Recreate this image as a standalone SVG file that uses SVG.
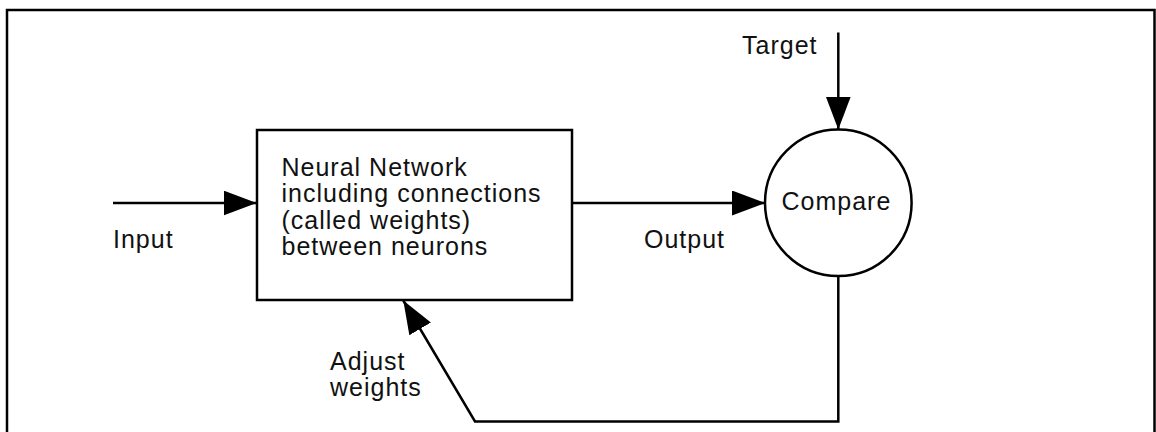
<svg xmlns="http://www.w3.org/2000/svg" width="1156" height="432" viewBox="0 0 1156 432">
  <style>
    .frame { fill: none; stroke: #000; stroke-width: 2.5; }
    .shape { fill: #fff; stroke: #000; stroke-width: 2.5; }
    .wire { fill: none; stroke: #000; stroke-width: 2.5; stroke-linejoin: miter; }
    .label { font-family: "Liberation Sans", Arial, Helvetica, sans-serif; font-size: 25px; letter-spacing: 1px; fill: #111; }
  </style>
  <defs>
    <marker id="arrow" viewBox="0 0 33 25" refX="33" refY="12.5" markerWidth="33" markerHeight="25" markerUnits="userSpaceOnUse" orient="auto">
      <path d="M0,0 L33,12.5 L0,25 Z" fill="#000"/>
    </marker>
  </defs>

  <rect width="1156" height="432" fill="#fff"/>
  <rect class="frame" x="7" y="10" width="1147.5" height="440"/>

  <!-- connectors -->
  <g id="connectors">
    <path id="input-edge" class="wire" d="M113,203 L256.5,203" marker-end="url(#arrow)"/>
    <path id="output-edge" class="wire" d="M572,203 L765,203" marker-end="url(#arrow)"/>
    <path id="target-edge" class="wire" d="M838.3,32.5 L838.3,129.5" marker-end="url(#arrow)"/>
    <path id="feedback-edge" class="wire" d="M838.3,276 L838.3,421.5 L475,421.5 L403.3,300.5" marker-end="url(#arrow)"/>
  </g>

  <!-- neural network block -->
  <g id="network">
    <rect class="shape" x="257" y="130" width="315" height="170"/>
    <text class="label" x="281.5" y="176">Neural Network</text>
    <text class="label" x="281.5" y="202.3">including connections</text>
    <text class="label" x="281.5" y="228.6">(called weights)</text>
    <text class="label" x="281.5" y="255">between neurons</text>
  </g>

  <!-- comparison node -->
  <g id="compare">
    <circle class="shape" cx="838.3" cy="202.7" r="73.3"/>
    <text class="label" x="781.5" y="210">Compare</text>
  </g>

  <!-- edge labels -->
  <g id="labels">
    <text class="label" x="113" y="248">Input</text>
    <text class="label" x="644" y="248">Output</text>
    <text class="label" x="742" y="54.3">Target</text>
    <text class="label" x="330" y="370">Adjust</text>
    <text class="label" x="330" y="396">weights</text>
  </g>
</svg>
